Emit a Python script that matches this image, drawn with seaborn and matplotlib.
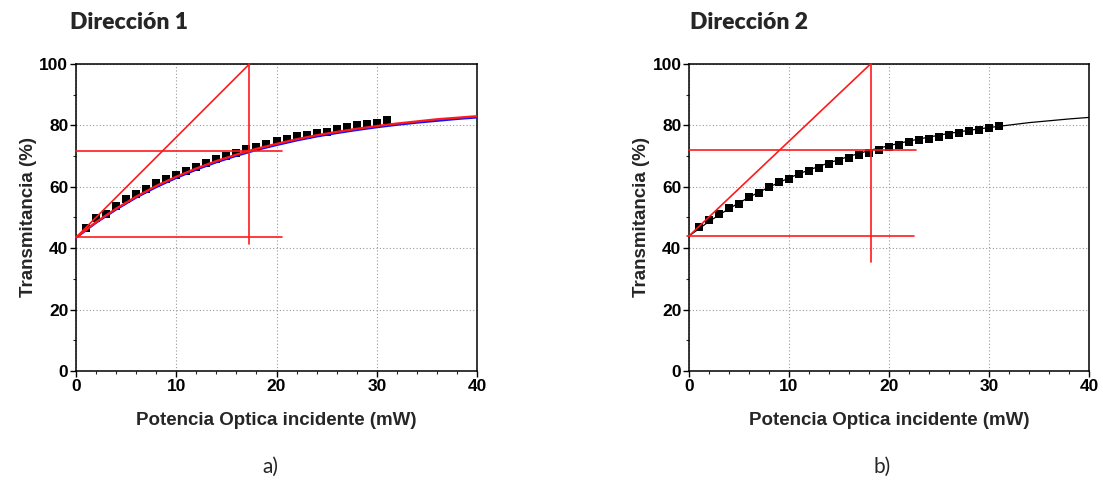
import matplotlib
matplotlib.use("Agg")
import matplotlib.pyplot as plt
import seaborn as sns
import pandas as pd
from matplotlib.ticker import MultipleLocator

# ---------------- data ----------------
power = list(range(1, 32))  # mW
trans_dir1 = [46.7, 49.7, 51.2, 53.7, 55.9, 57.6, 59.4, 61.1, 62.4, 63.8,
              65.1, 66.3, 67.6, 68.9, 70.1, 71.1, 72.3, 73.1, 73.9, 74.8,
              75.6, 76.4, 76.9, 77.4, 77.8, 78.7, 79.5, 80.0, 80.6, 80.9, 81.6]
trans_dir2 = [47.0, 49.1, 51.1, 53.1, 54.4, 56.7, 58.1, 59.8, 61.4, 62.7,
              64.2, 65.3, 66.1, 67.4, 68.5, 69.5, 70.5, 71.1, 72.0, 73.0,
              73.7, 74.5, 75.1, 75.5, 76.1, 76.8, 77.5, 78.1, 78.6, 79.1, 79.7]

fit_x = [0, 2, 4, 6, 8, 10, 12, 14, 16, 18, 20, 22, 24, 26, 28, 30, 32, 34, 36, 38, 40]
fit1_red = [43.5, 48.5, 52.9, 56.8, 60.3, 63.3, 66.0, 68.4, 70.5, 72.4, 74.0,
            75.5, 76.8, 77.9, 78.9, 79.8, 80.6, 81.3, 82.0, 82.5, 83.0]
fit1_blue = [43.4, 48.3, 52.6, 56.5, 59.9, 62.9, 65.6, 68.0, 70.1, 72.0, 73.6,
             75.1, 76.4, 77.5, 78.5, 79.4, 80.2, 80.9, 81.5, 82.1, 82.6]
fit2 = [44.0, 48.7, 52.9, 56.6, 59.9, 62.9, 65.5, 67.8, 69.9, 71.8, 73.4,
        74.9, 76.2, 77.4, 78.4, 79.3, 80.1, 80.9, 81.5, 82.1, 82.6]

# construction lines (x list, y list)
guides1 = {
    "tangent": ([0, 17.3], [43.5, 100]),
    "vertical": ([17.3, 17.3], [100, 41.5]),
    "upper": ([0, 20.5], [71.6, 71.6]),
    "lower": ([0, 20.5], [43.8, 43.8]),
}
guides2 = {
    "tangent": ([0, 18.15], [44.0, 100]),
    "vertical": ([18.15, 18.15], [100, 35.5]),
    "upper": ([0, 22.7], [71.9, 71.9]),
    "lower": ([-0.2, 22.5], [43.9, 43.9]),
}

titles = ["Dirección 1", "Dirección 2"]
captions = ["a)", "b)"]
xlabel = "Potencia Optica incidente (mW)"
ylabel = "Transmitancia (%)"

# ---------------- style ----------------
sns.set_style("ticks")
plt.rcParams['font.family'] = ['Liberation Sans', 'DejaVu Sans']

fig = plt.figure(figsize=(11.03, 4.83), dpi=100)
ax1 = fig.add_axes([0.0689, 0.2319, 0.3636, 0.6356])
ax2 = fig.add_axes([0.6247, 0.2319, 0.3626, 0.6356])


def style_axes(ax):
    ax.set_xlim(0, 40)
    ax.set_ylim(0, 100)
    ax.xaxis.set_major_locator(MultipleLocator(10))
    ax.xaxis.set_minor_locator(MultipleLocator(2))
    ax.yaxis.set_major_locator(MultipleLocator(20))
    ax.yaxis.set_minor_locator(MultipleLocator(10))
    ax.grid(True, which='major', linestyle=(0, (1, 2)), color='#999999', linewidth=0.8)
    ax.set_axisbelow(True)
    for s in ax.spines.values():
        s.set_linewidth(1.1)
        s.set_color('black')
        s.set_visible(True)
    ax.tick_params(which='major', direction='out', length=4, width=1, labelsize=12.5,
                   pad=1.5, colors='black')
    ax.tick_params(which='minor', direction='out', length=2.5, width=0.8)
    for lab in ax.get_xticklabels() + ax.get_yticklabels():
        lab.set_fontweight('bold')
    ax.set_xlabel(xlabel, fontsize=13.5, fontweight='bold', labelpad=13)
    ax.set_ylabel(ylabel, fontsize=13.5, fontweight='bold', labelpad=2)


def draw_guides(ax, guides):
    for name, (gx, gy) in guides.items():
        ax.plot(gx, gy, color='#ff1a1a', linewidth=1.2, zorder=4, clip_on=False)


# ---- panel 1 ----
df1 = pd.DataFrame({"P": power, "T": trans_dir1})
sns.scatterplot(data=df1, x="P", y="T", ax=ax1, marker='s', s=32, color='black',
                edgecolor='black', linewidth=0, zorder=3)
fdf1 = pd.DataFrame({"x": fit_x, "red": fit1_red, "blue": fit1_blue})
sns.lineplot(data=fdf1, x="x", y="blue", ax=ax1, color='#1010ff', linewidth=1.6, zorder=4)
sns.lineplot(data=fdf1, x="x", y="red", ax=ax1, color='#ff1a1a', linewidth=1.6, zorder=5)
draw_guides(ax1, guides1)
style_axes(ax1)

# ---- panel 2 ----
df2 = pd.DataFrame({"P": power, "T": trans_dir2})
sns.scatterplot(data=df2, x="P", y="T", ax=ax2, marker='s', s=32, color='black',
                edgecolor='black', linewidth=0, zorder=3)
fdf2 = pd.DataFrame({"x": fit_x, "y": fit2})
sns.lineplot(data=fdf2, x="x", y="y", ax=ax2, color='black', linewidth=0.9, zorder=4)
draw_guides(ax2, guides2)
style_axes(ax2)

# titles and captions
fig.text(0.0635, 0.954, titles[0], fontsize=16.5, fontweight='heavy',
         family=['Lato', 'DejaVu Sans'], ha='left', va='center')
fig.text(0.6256, 0.954, titles[1], fontsize=16.5, fontweight='heavy',
         family=['Lato', 'DejaVu Sans'], ha='left', va='center')
fig.text(0.245, 0.033, captions[0], fontsize=15, family=['Lato', 'DejaVu Sans'],
         ha='center', va='center')
fig.text(0.800, 0.033, captions[1], fontsize=15, family=['Lato', 'DejaVu Sans'],
         ha='center', va='center')

fig.savefig("out.png", dpi=100)
